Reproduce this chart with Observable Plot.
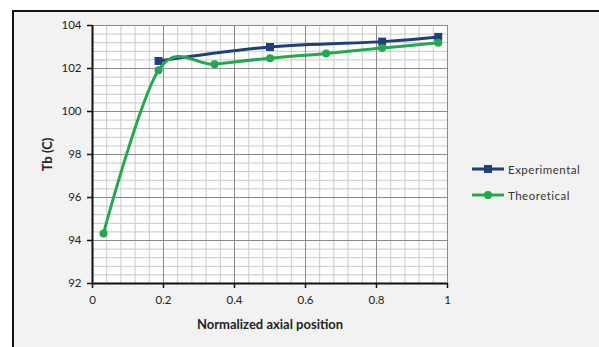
<!DOCTYPE html>
<html>
<head>
<meta charset="utf-8">
<script src="https://cdn.jsdelivr.net/npm/d3@7"></script>
<script src="https://cdn.jsdelivr.net/npm/@observablehq/plot@0.6"></script>
<style>
  html, body { margin: 0; padding: 0; background: #fff; }
  #wrap { position: relative; width: 599px; height: 347px; overflow: hidden; font-family: Lato, "Open Sans", sans-serif; }
  #frame { position: absolute; left: 12px; top: 10px; width: 620px; height: 360px; background: #f2f2f2; border-left: 2px solid #111; border-top: 2px solid #111; box-sizing: border-box; }
  #chart { position: absolute; left: 0; top: 0; }
  #legend { position: absolute; left: 472px; top: 156px; font-size: 11.5px; color: #333; letter-spacing: 0.5px; }
  .item { display: flex; align-items: center; height: 26px; }
  .item svg { margin-right: 2px; }
</style>
</head>
<body>
<div id="wrap">
  <div id="frame"></div>
  <div id="chart"></div>
  <div id="legend"></div>
</div>
<script>
const seriesNames = ["Experimental", "Theoretical"];
const seriesColors = ["#1f3f7a", "#22a84f"];
const expX = [0.186, 0.5, 0.816, 0.974];
const expY = [102.35, 103.0, 103.25, 103.47];
const theoX = [0.031, 0.186, 0.344, 0.5, 0.658, 0.816, 0.974];
const theoY = [94.33, 101.92, 102.2, 102.48, 102.7, 102.95, 103.2];
const xTicks = [0, 0.2, 0.4, 0.6, 0.8, 1];
const yTicks = [92, 94, 96, 98, 100, 102, 104];
const xMinorStep = 0.04;
const yMinorStep = 0.4;

const exp = expX.map((x, i) => ({x, y: expY[i]}));
const theo = theoX.map((x, i) => ({x, y: theoY[i]}));
const xMinorTicks = d3.range(0, Math.round(1 / xMinorStep) + 1).map(i => +(i * xMinorStep).toFixed(4));
const yMinorTicks = d3.range(0, Math.round(12 / yMinorStep) + 1).map(i => +(92 + i * yMinorStep).toFixed(4));

const chart = Plot.plot({
  width: 599,
  height: 347,
  marginLeft: 92,
  marginRight: 152,
  marginTop: 25,
  marginBottom: 64,
  style: { background: "transparent", fontFamily: "Lato, 'Open Sans', sans-serif", fontSize: "11.5px", color: "#222" },
  x: { domain: [0, 1] },
  y: { domain: [92, 104] },
  marks: [
    Plot.frame({ fill: "white", stroke: "none" }),
    Plot.ruleX(xMinorTicks, { stroke: "#c8c8c8", strokeWidth: 1 }),
    Plot.ruleY(yMinorTicks, { stroke: "#c8c8c8", strokeWidth: 1 }),
    Plot.ruleX(xTicks, { stroke: "#8a8a8a", strokeWidth: 1 }),
    Plot.ruleY(yTicks, { stroke: "#8a8a8a", strokeWidth: 1 }),
    Plot.axisX({ ticks: xTicks, tickSize: 5, tickPadding: 7, tickFormat: d => d3.format("~g")(d), stroke: "#111", strokeWidth: 1.5,
      label: "Normalized axial position", labelAnchor: "center", labelOffset: 45, labelArrow: false }),
    Plot.axisY({ ticks: yTicks, tickSize: 5, tickPadding: 6, stroke: "#111", strokeWidth: 1.5,
      label: "Tb (C)", labelAnchor: "center", labelOffset: 50, labelArrow: false }),
    Plot.ruleX([0], { stroke: "#111", strokeWidth: 2 }),
    Plot.ruleY([92], { stroke: "#111", strokeWidth: 2 }),
    Plot.line(exp, { x: "x", y: "y", stroke: seriesColors[0], strokeWidth: 3, curve: "cardinal" }),
    Plot.dot(exp, { x: "x", y: "y", symbol: "square", r: 4.5, fill: seriesColors[0] }),
    Plot.line(theo, { x: "x", y: "y", stroke: seriesColors[1], strokeWidth: 3, curve: "cardinal" }),
    Plot.dot(theo, { x: "x", y: "y", symbol: "circle", r: 4, fill: seriesColors[1] })
  ]
});
document.getElementById("chart").appendChild(chart);
chart.querySelectorAll("[aria-label='x-axis label'], [aria-label='y-axis label']").forEach(g => {
  g.setAttribute("font-weight", "bold");
  g.setAttribute("font-size", "13px");
});

const legend = document.getElementById("legend");
seriesNames.forEach((name, i) => {
  const item = document.createElement("div");
  item.className = "item";
  const marker = i === 0
    ? `<rect x="12" y="3" width="8" height="8" fill="${seriesColors[i]}"/>`
    : `<circle cx="16" cy="7" r="4" fill="${seriesColors[i]}"/>`;
  item.innerHTML = `<svg width="34" height="14"><line x1="0" x2="32" y1="7" y2="7" stroke="${seriesColors[i]}" stroke-width="3"/>${marker}</svg><span>${name}</span>`;
  legend.appendChild(item);
});
</script>
</body>
</html>
